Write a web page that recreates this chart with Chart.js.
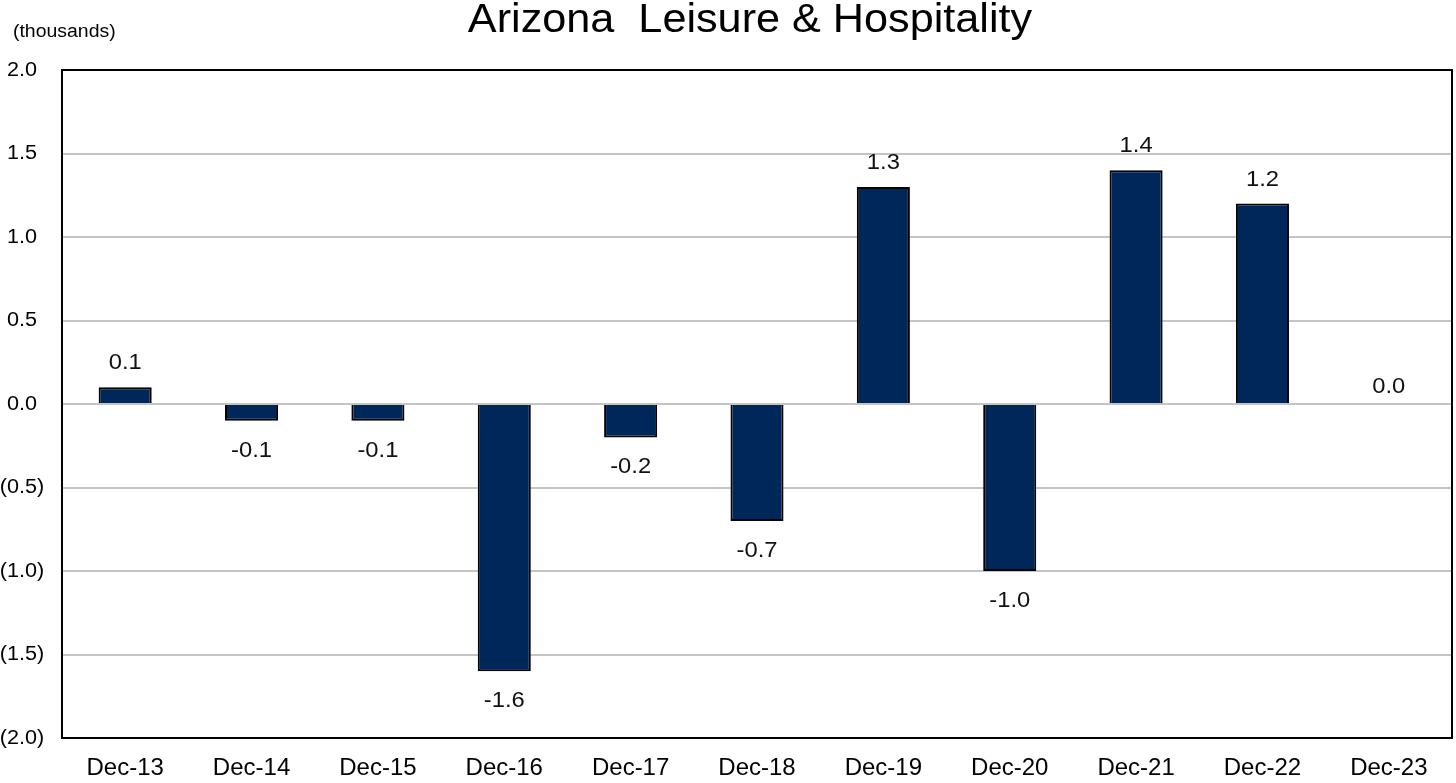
<!DOCTYPE html>
<html>
<head>
<meta charset="utf-8">
<script src="https://cdn.jsdelivr.net/npm/chart.js@4/dist/chart.umd.min.js"></script>
<style>
    body { margin: 0; background: #ffffff; }
    #wrap { position: relative; width: 1456px; height: 783px; }
</style>
</head>
<body>
<div id="wrap"><canvas id="jobsChart" width="1456" height="783"></canvas></div>
<script>
const titleText = 'Arizona  Leisure & Hospitality';
const unitsText = '(thousands)';
const categories = ['Dec-13', 'Dec-14', 'Dec-15', 'Dec-16', 'Dec-17', 'Dec-18', 'Dec-19', 'Dec-20', 'Dec-21', 'Dec-22', 'Dec-23'];
const changes = [0.1, -0.1, -0.1, -1.6, -0.2, -0.7, 1.3, -1.0, 1.4, 1.2, 0.0];
const yMin = -2.0;
const yMax = 2.0;
const yStep = 0.5;

const FONT = '"Liberation Sans", Arial, sans-serif';
const STRETCH = 1.08; // text in the original is a bit wider than plain Arial

// draw text squeezed/stretched horizontally around its anchor
function wideText(ctx, text, x, y, align) {
    ctx.save();
    ctx.translate(x, y);
    ctx.scale(STRETCH, 1);
    ctx.textAlign = align;
    ctx.fillText(text, 0, 0);
    ctx.restore();
}

const decorations = {
    id: 'decorations',
    afterDraw(chart) {
        const ctx = chart.ctx;
        const area = chart.chartArea;
        ctx.save();
        ctx.fillStyle = '#000000';
        ctx.textBaseline = 'middle';

        ctx.font = '40px ' + FONT;
        wideText(ctx, titleText, 750, 21, 'center');

        ctx.font = '18px ' + FONT;
        wideText(ctx, unitsText, 13, 32, 'left');

        // y tick labels, negatives in brackets with digits lined up
        const yScale = chart.scales.y;
        ctx.font = '20px ' + FONT;
        const right = 37;
        yScale.ticks.forEach(t => {
            const y = yScale.getPixelForValue(t.value);
            if (t.value < 0) {
                const body = '(' + Math.abs(t.value).toFixed(1);
                const w = ctx.measureText(body).width * STRETCH;
                wideText(ctx, body + ')', right - w, y, 'left');
            } else {
                wideText(ctx, t.value.toFixed(1), right, y, 'right');
            }
        });

        ctx.strokeStyle = '#000000';
        ctx.lineWidth = 2;
        ctx.strokeRect(area.left, area.top, area.right - area.left, area.bottom - area.top);

        // value labels on bars
        const meta = chart.getDatasetMeta(0);
        ctx.font = '22px ' + FONT;
        ctx.fillStyle = '#111111';
        meta.data.forEach((bar, i) => {
            const v = changes[i];
            let y;
            if (v > 0) y = bar.y - 24;
            else if (v < 0) y = bar.y + 30;
            else y = bar.y - 17;
            wideText(ctx, v.toFixed(1), bar.x, y, 'center');
        });
        ctx.restore();
    }
};

const ctx = document.getElementById('jobsChart').getContext('2d');

new Chart(ctx, {
    type: 'bar',
    data: {
        labels: categories,
        datasets: [{
            data: changes,
            backgroundColor: '#00275a',
            borderColor: '#000000',
            borderWidth: 2,
            barPercentage: 0.42,
            categoryPercentage: 1.0
        }]
    },
    options: {
        responsive: false,
        animation: false,
        layout: {
            padding: { top: 70, right: 4, left: 0, bottom: 0 }
        },
        plugins: {
            legend: { display: false },
            tooltip: { enabled: false },
            title: { display: false }
        },
        scales: {
            x: {
                grid: { display: false, drawTicks: false },
                border: { display: false },
                ticks: {
                    color: '#000000',
                    padding: 16,
                    maxRotation: 0,
                    font: { family: FONT, size: 24 }
                },
                afterFit(scale) { scale.height = 45; }
            },
            y: {
                min: yMin,
                max: yMax,
                grid: { color: '#c4c4c4', lineWidth: 2, drawTicks: false },
                border: { display: false },
                ticks: {
                    stepSize: yStep,
                    display: false
                },
                afterFit(scale) { scale.width = 62; }
            }
        }
    },
    plugins: [decorations]
});
</script>
</body>
</html>
